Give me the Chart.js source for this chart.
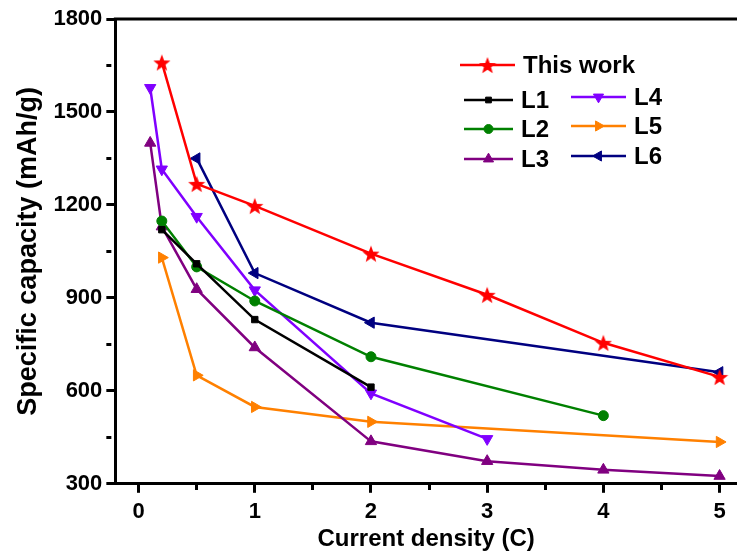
<!DOCTYPE html>
<html>
<head>
<meta charset="utf-8">
<script src="https://cdn.jsdelivr.net/npm/chart.js@4.4.1/dist/chart.umd.min.js"></script>
<style>
  html, body { margin: 0; padding: 0; background: #fff; overflow: hidden; }
  #wrap { width: 737px; height: 558px; position: relative; }
  canvas { display: block; }
</style>
</head>
<body>
<div id="wrap"><canvas id="c"></canvas></div>
<script>
// values
const thisWorkX = [0.2, 0.5, 1, 2, 3, 4, 5]
const thisWorkY = [1660, 1268, 1197, 1043, 910, 755, 645]
const l1X = [0.2, 0.5, 1, 2]
const l1Y = [1120, 1010, 830, 612]
const l2X = [0.2, 0.5, 1, 2, 4]
const l2Y = [1148, 1000, 890, 710, 520]
const l3X = [0.1, 0.2, 0.5, 1, 2, 3, 4, 5]
const l3Y = [1400, 1130, 928, 740, 437, 373, 345, 325]
const l4X = [0.1, 0.2, 0.5, 1, 2, 3]
const l4Y = [1578, 1315, 1162, 925, 592, 445]
const l5X = [0.2, 0.5, 1, 2, 5]
const l5Y = [1030, 650, 548, 500, 435]
const l6X = [0.5, 1, 2, 5]
const l6Y = [1350, 980, 820, 660]

const seriesNames = ['This work', 'L1', 'L2', 'L3', 'L4', 'L5', 'L6']
const xTicks = [0, 1, 2, 3, 4, 5]
const yTicks = [300, 600, 900, 1200, 1500, 1800]

const FONT = "'Liberation Sans', Arial, sans-serif"

function pts(xs, ys) { return xs.map((x, i) => ({ x, y: ys[i] })) }

function starImage(size, color) {
  const cv = document.createElement('canvas')
  cv.width = size; cv.height = size
  const g = cv.getContext('2d')
  const R = size / 2, r = R * 0.42
  g.beginPath()
  for (let i = 0; i < 10; i++) {
    const rad = i % 2 ? r : R
    const a = -Math.PI / 2 + i * Math.PI / 5
    const px = R + rad * Math.cos(a), py = R + 1 + rad * Math.sin(a)
    i ? g.lineTo(px, py) : g.moveTo(px, py)
  }
  g.closePath()
  g.fillStyle = color
  g.fill()
  return cv
}
const star = starImage(18, '#ff0000')

function ds(label, xs, ys, color, style, radius, rotation) {
  return {
    label, data: pts(xs, ys),
    borderColor: color, backgroundColor: color,
    pointBackgroundColor: color, pointBorderColor: color,
    borderWidth: 2.5, pointStyle: style, pointRadius: radius,
    pointRotation: rotation || 0, pointBorderWidth: 1, tension: 0,
    clip: false,
  }
}

const datasets = [
  ds(seriesNames[0], thisWorkX, thisWorkY, '#ff0000', star, 9),
  ds(seriesNames[1], l1X, l1Y, '#000000', 'rect', 4.5),
  ds(seriesNames[2], l2X, l2Y, '#008000', 'circle', 5),
  ds(seriesNames[3], l3X, l3Y, '#800080', 'triangle', 6.5),
  ds(seriesNames[4], l4X, l4Y, '#8000ff', 'triangle', 6.5, 180),
  ds(seriesNames[5], l5X, l5Y, '#ff8000', 'triangle', 6.5, 90),
  ds(seriesNames[6], l6X, l6Y, '#000080', 'triangle', 6.5, 270),
]
datasets.forEach((d, i) => d.order = i)

const legendSpots = [
  { x1: 460, x2: 515, ty: 65 },
  { x1: 464, x2: 513, ty: 100 },
  { x1: 464, x2: 513, ty: 129 },
  { x1: 464, x2: 513, ty: 159 },
  { x1: 571, x2: 626, ty: 97 },
  { x1: 571, x2: 626, ty: 126 },
  { x1: 571, x2: 626, ty: 156 },
]

const framePlugin = {
  id: 'frame',
  afterDraw(chart) {
    const { ctx, chartArea: a } = chart
    ctx.save()
    ctx.strokeStyle = '#000'
    ctx.lineWidth = 3
    ctx.beginPath()
    ctx.moveTo(a.left - 1.5, a.top)
    ctx.lineTo(a.right, a.top)
    ctx.stroke()

    // legend
    const drawPoint = Chart.helpers && Chart.helpers.drawPoint
    chart.data.datasets.forEach((d, i) => {
      const s = legendSpots[i]
      ctx.strokeStyle = d.borderColor
      ctx.fillStyle = d.backgroundColor
      ctx.lineWidth = 2.5
      ctx.beginPath()
      ctx.moveTo(s.x1, s.ty)
      ctx.lineTo(s.x2, s.ty)
      ctx.stroke()
      const mx = (s.x1 + s.x2) / 2
      if (drawPoint) {
        ctx.lineWidth = 1
        drawPoint(ctx, { pointStyle: d.pointStyle, rotation: d.pointRotation,
          radius: d.pointRadius * (i === 0 ? 1 : 0.9), borderWidth: 1 }, mx, s.ty)
      }
      ctx.fillStyle = '#000'
      ctx.font = 'bold 24px ' + FONT
      ctx.textBaseline = 'middle'
      ctx.textAlign = 'left'
      ctx.fillText(d.label, s.x2 + 8, s.ty + 1)
    })
    ctx.restore()
  }
}

const isMajorX = v => xTicks.includes(v)
const isMajorY = v => yTicks.includes(v)

new Chart(document.getElementById('c'), {
  type: 'line',
  data: { datasets },
  plugins: [framePlugin],
  options: {
    responsive: true,
    maintainAspectRatio: false,
    animation: false,
    layout: { autoPadding: false, padding: { top: 19, right: 0, bottom: 0, left: 10 } },
    plugins: { legend: { display: false }, tooltip: { enabled: false } },
    scales: {
      x: {
        type: 'linear', min: -0.2, max: 5.15,
        afterBuildTicks: s => { s.ticks = []; for (let v = 0; v <= 5; v += 0.5) s.ticks.push({ value: v }) },
        afterFit: s => { s.paddingLeft = 0; s.paddingRight = 0 },
        ticks: {
          color: '#000', font: { family: FONT, size: 22, weight: 'bold' }, padding: 6,
          maxRotation: 0, autoSkip: false,
          callback: v => isMajorX(v) ? String(v) : '',
        },
        grid: {
          drawOnChartArea: false, tickLength: 9, tickWidth: 3, tickColor: '#000',
          tickBorderDash: c => isMajorX(c.tick.value) ? [] : [5, 20],
        },
        border: { display: true, width: 3, color: '#000' },
        title: { display: true, text: 'Current density (C)', color: '#000',
          font: { family: FONT, size: 24, weight: 'bold' }, padding: { top: -6, bottom: 4 } },
      },
      y: {
        type: 'linear', min: 300, max: 1800,
        afterBuildTicks: s => { s.ticks = []; for (let v = 300; v <= 1800; v += 150) s.ticks.push({ value: v }) },
        ticks: {
          color: '#000', font: { family: FONT, size: 22, weight: 'bold' }, padding: 4,
          autoSkip: false,
          callback: v => isMajorY(v) ? String(v) : '',
        },
        grid: {
          drawOnChartArea: false, tickLength: 9, tickWidth: 3, tickColor: '#000',
          tickBorderDash: c => isMajorY(c.tick.value) ? [] : [5, 20],
        },
        border: { display: true, width: 3, color: '#000' },
        title: { display: true, text: 'Specific capacity (mAh/g)', color: '#000',
          font: { family: FONT, size: 27, weight: 'bold' }, padding: { top: 2, bottom: 5 } },
      },
    },
  },
})
</script>
</body>
</html>
